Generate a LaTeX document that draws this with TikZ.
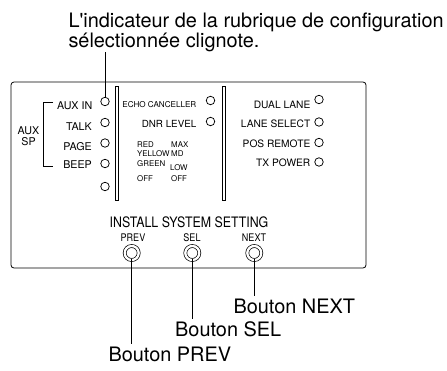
\documentclass[tikz,border=0pt]{standalone}
\usepackage{fontspec}
\setmainfont{TeX Gyre Heros}
\newfontfamily\narrowfont[FakeStretch=0.86]{TeX Gyre Heros}
\usetikzlibrary{positioning}
\newcommand{\fsz}[1]{\fontsize{#1}{#1}\selectfont}

\begin{document}
\begin{tikzpicture}[x=1pt,y=-1pt,
  every node/.style={inner sep=0pt},
  lb/.style={anchor=base east,font=\fsz{10.7}},
  lbr/.style={anchor=base east,font=\fsz{10.2}},
  sm/.style={anchor=base west,font=\fsz{7.9}},
  led/.style={draw=black,circle,line width=0.75pt,minimum size=8.5pt},
  btn/.style={draw=black,circle,line width=0.7pt,minimum size=14pt,double,double distance=2.3pt},
  bl/.style={anchor=base,font=\narrowfont\fsz{10.5}},
  call/.style={anchor=base west,font=\fsz{19.9},inner sep=2.5pt},
  ln/.style={line width=0.8pt}]
\useasboundingbox (0,0) rectangle (447,370);
\node[anchor=north west,align=left,font=\fsz{19.9}] (note) at (68.3,13) {L\textquotesingle indicateur de la rubrique de configuration\\s\'electionn\'ee clignote.};
\draw[ln,rounded corners=3pt] (11,82) rectangle (366,268);
\draw[line width=0.7pt] (115.5,86) rectangle (118.5,200);
\draw[line width=0.7pt] (222.5,86) rectangle (225.5,200);
\node[lb] (auxin) at (92.5,109.5) {AUX IN};
\node[lb] (talk) at (92,130.5) {TALK};
\node[lb] (page) at (92,150.5) {PAGE};
\node[lb] (beep) at (92,168) {BEEP};
\node[align=center,font=\fsz{10.7}] (auxsp) at (28.5,136) {AUX\\SP};
\draw[line width=0.7pt] (53,102.5) -- (43,102.5) -- (43,166) -- (53,166);
\node[led] (lauxin) at (105,101.5) {};
\node[led] (ltalk) at (105,122.5) {};
\node[led] (lpage) at (105,143) {};
\node[led] (lbeep) at (105,163.5) {};
\node[led] (lempty) at (105,186.5) {};
\node[anchor=base east,font=\fsz{8.1}] (echo) at (196.5,107.5) {ECHO CANCELLER};
\node[anchor=base east,font=\fsz{9.8}] (dnr) at (196.5,127) {DNR LEVEL};
\node[led] (lecho) at (210.5,100.5) {};
\node[led] (ldnr) at (210.5,121.5) {};
\node[sm] (red) at (137,147) {RED};
\node[sm] (yellow) at (137,156.5) {YELLOW};
\node[sm] (green) at (137,166) {GREEN};
\node[sm] (offl) at (137,181) {OFF};
\node[sm] (max) at (171,147) {MAX};
\node[sm] (md) at (171,156.5) {MD};
\node[sm] (low) at (170,170.5) {LOW};
\node[sm] (offr) at (171,181) {OFF};
\node[lbr] (dual) at (310.5,108) {DUAL LANE};
\node[lbr] (lanesel) at (310.5,127) {LANE SELECT};
\node[lbr] (posrem) at (310.5,147) {POS REMOTE};
\node[lbr] (txpow) at (310.5,166) {TX POWER};
\node[led] (ldual) at (319,99.5) {};
\node[led] (llanesel) at (319,122) {};
\node[led] (lposrem) at (319,142.5) {};
\node[led] (ltxpow) at (319,162) {};
\node[anchor=base,font=\narrowfont\fsz{14.4}] (install) at (189,227) {INSTALL SYSTEM SETTING};
\node[bl] (prev) at (133,241.5) {PREV};
\node[bl] (sel) at (192,241.5) {SEL};
\node[bl] (next) at (254,241.5) {NEXT};
\node[btn] (pbtn) at (131.7,253) {};
\node[btn] (sbtn) at (192.3,253) {};
\node[btn] (nbtn) at (254.3,253) {};
\node[call] (pl) at (105.8,361.7) {Bouton PREV};
\node[call] (sl) at (172.5,336.7) {Bouton SEL};
\node[call] (nl) at (230.8,313.3) {Bouton NEXT};
\draw[ln] (lauxin.north) -- (lauxin |- note.south);
\draw[ln,shorten <=-1.8pt] (pbtn.south) -- (pbtn |- pl.north);
\draw[ln,shorten <=-1.8pt] (sbtn.south) -- (sbtn |- sl.north);
\draw[ln,shorten <=-1.8pt] (nbtn.south) -- (nbtn |- nl.north);
\end{tikzpicture}
\end{document}
